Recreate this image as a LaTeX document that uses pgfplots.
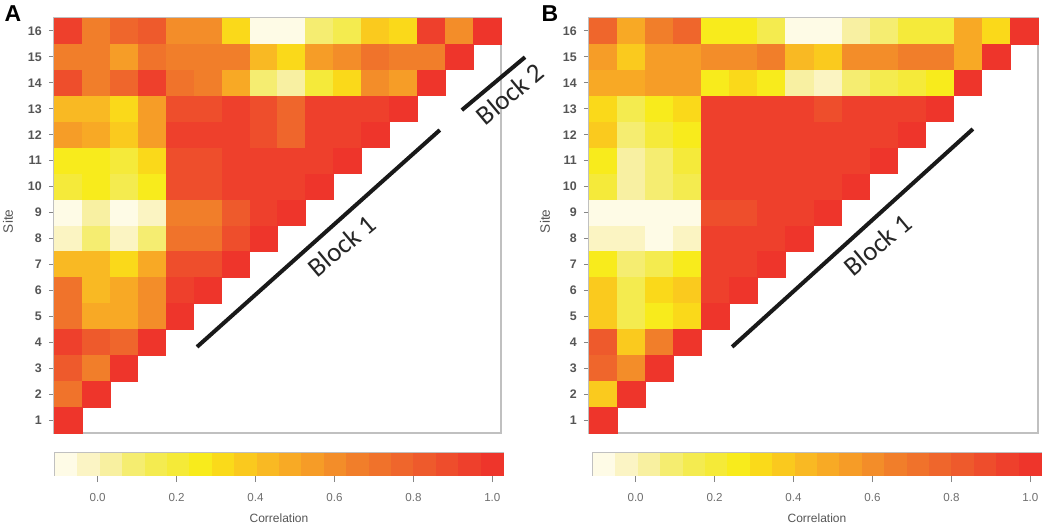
\documentclass[border=0pt]{standalone}
\usepackage{pgfplots}
\pgfplotsset{compat=1.18}
\usepackage{pgfplotstable}
\usepackage{fontspec}
\setmainfont{Liberation Sans}
\newfontfamily\blockfont{Carlito}

\definecolor{ticktext}{RGB}{85,85,85}
\definecolor{boxgray}{RGB}{192,192,192}

\pgfplotsset{
  colormap={corr}{
    rgb255=(254,251,230) rgb255=(251,244,196) rgb255=(248,240,160) rgb255=(245,237,112)
    rgb255=(244,235,80)  rgb255=(245,234,56)  rgb255=(248,235,28)  rgb255=(250,218,26)
    rgb255=(250,201,30)  rgb255=(249,185,35)  rgb255=(248,170,37)  rgb255=(246,156,39)
    rgb255=(243,141,41)  rgb255=(241,126,42)  rgb255=(240,114,43)  rgb255=(239,102,44)
    rgb255=(238,90,44)   rgb255=(238,77,44)   rgb255=(238,64,44)   rgb255=(238,53,43)
  },
  heat/.style={
    scale only axis, height=207.5pt,
    xmin=0.5, xmax=16.5, ymin=0.5, ymax=16.5,
    /pgf/number format/assume math mode=true,
    axis line style={boxgray, line width=0.6pt},
    xtick=\empty, ytick={1,...,16}, ytick pos=left,
    tick align=outside, major tick length=2.6pt,
    major tick style={boxgray!70!black, line width=0.5pt},
    yticklabel style={font=\bfseries\fontsize{6.2}{7}\selectfont, text=ticktext},
    ylabel=Site,
    ylabel style={font=\fontsize{6.8}{7}\selectfont, text=ticktext, anchor=center},
    colormap name=corr, point meta min=-0.0796, point meta max=0.9986,
    clip=false,
  },
  cells/.style={scatter, only marks, mark=square*, mark size=6.9pt,
    mark options={yscale=0.925, line width=0.2pt},
    scatter/use mapped color={draw=mapped color, fill=mapped color},
    point meta=explicit},
  cbar/.style={
    scale only axis, width=224pt, height=11pt,
    xmin=-0.108, xmax=1.027, ymin=-0.5, ymax=0.5,
    ytick=\empty, xtick={0,0.2,0.4,0.6,0.8,1.0},
    xticklabels={0.0,0.2,0.4,0.6,0.8,1.0},
    xtick pos=left, tick align=outside, major tick length=3.5pt,
    major tick style={boxgray!70!black, line width=0.5pt},
    axis line style={boxgray, line width=0.6pt},
    xticklabel style={font=\fontsize{5.8}{7}\selectfont, text=ticktext!85!white, yshift=-2pt},
    xlabel=Correlation,
    xlabel style={font=\fontsize{6}{7}\selectfont, text=ticktext, at={(axis description cs:0.5,-1.955)}, anchor=center},
    colormap name=corr, point meta min=-0.0796, point meta max=0.9986,
    clip=false,
  },
  cbarcells/.style={scatter, only marks, mark=square*, mark size=5.5pt,
    mark options={yscale=0.98, line width=0.2pt},
    scatter/use mapped color={draw=mapped color, fill=mapped color},
    point meta=x},
}

\pgfplotstableread{
x y c
1 16 0.94
2 16 0.66
3 16 0.77
4 16 0.83
5 16 0.60
6 16 0.60
7 16 0.32
8 16 -0.08
9 16 -0.08
10 16 0.09
11 16 0.15
12 16 0.37
13 16 0.32
14 16 0.94
15 16 0.60
16 16 1.00
1 15 0.66
2 15 0.66
3 15 0.54
4 15 0.71
5 15 0.66
6 15 0.66
7 15 0.66
8 15 0.43
9 15 0.32
10 15 0.54
11 15 0.60
12 15 0.71
13 15 0.66
14 15 0.66
15 15 1.00
1 14 0.88
2 14 0.66
3 14 0.77
4 14 0.94
5 14 0.71
6 14 0.66
7 14 0.49
8 14 0.09
9 14 0.03
10 14 0.20
11 14 0.32
12 14 0.60
13 14 0.54
14 14 1.00
1 13 0.43
2 13 0.43
3 13 0.32
4 13 0.54
5 13 0.88
6 13 0.88
7 13 0.94
8 13 0.88
9 13 0.77
10 13 0.94
11 13 0.94
12 13 0.94
13 13 1.00
1 12 0.54
2 12 0.49
3 12 0.37
4 12 0.54
5 12 0.94
6 12 0.94
7 12 0.94
8 12 0.88
9 12 0.77
10 12 0.94
11 12 0.94
12 12 1.00
1 11 0.26
2 11 0.26
3 11 0.20
4 11 0.32
5 11 0.88
6 11 0.88
7 11 0.94
8 11 0.94
9 11 0.94
10 11 0.94
11 11 1.00
1 10 0.20
2 10 0.26
3 10 0.15
4 10 0.26
5 10 0.88
6 10 0.88
7 10 0.94
8 10 0.94
9 10 0.94
10 10 1.00
1 9 -0.08
2 9 0.03
3 9 -0.08
4 9 -0.02
5 9 0.66
6 9 0.66
7 9 0.83
8 9 0.94
9 9 1.00
1 8 -0.02
2 8 0.09
3 8 -0.02
4 8 0.09
5 8 0.71
6 8 0.71
7 8 0.88
8 8 1.00
1 7 0.43
2 7 0.43
3 7 0.32
4 7 0.49
5 7 0.88
6 7 0.88
7 7 1.00
1 6 0.71
2 6 0.43
3 6 0.49
4 6 0.60
5 6 0.94
6 6 1.00
1 5 0.71
2 5 0.49
3 5 0.49
4 5 0.60
5 5 1.00
1 4 0.94
2 4 0.83
3 4 0.77
4 4 1.00
1 3 0.83
2 3 0.66
3 3 1.00
1 2 0.71
2 2 1.00
1 1 1.00
}\tabA

\pgfplotstableread{
x y c
1 16 0.77
2 16 0.49
3 16 0.66
4 16 0.77
5 16 0.26
6 16 0.26
7 16 0.15
8 16 -0.08
9 16 -0.08
10 16 0.03
11 16 0.09
12 16 0.20
13 16 0.20
14 16 0.49
15 16 0.32
16 16 1.00
1 15 0.54
2 15 0.37
3 15 0.54
4 15 0.54
5 15 0.60
6 15 0.60
7 15 0.66
8 15 0.43
9 15 0.37
10 15 0.60
11 15 0.60
12 15 0.66
13 15 0.66
14 15 0.49
15 15 1.00
1 14 0.49
2 14 0.49
3 14 0.54
4 14 0.54
5 14 0.26
6 14 0.32
7 14 0.26
8 14 0.03
9 14 -0.02
10 14 0.09
11 14 0.15
12 14 0.20
13 14 0.26
14 14 1.00
1 13 0.32
2 13 0.15
3 13 0.26
4 13 0.32
5 13 0.94
6 13 0.94
7 13 0.94
8 13 0.94
9 13 0.88
10 13 0.94
11 13 0.94
12 13 0.94
13 13 1.00
1 12 0.37
2 12 0.09
3 12 0.20
4 12 0.26
5 12 0.94
6 12 0.94
7 12 0.94
8 12 0.94
9 12 0.94
10 12 0.94
11 12 0.94
12 12 1.00
1 11 0.26
2 11 0.03
3 11 0.09
4 11 0.20
5 11 0.94
6 11 0.94
7 11 0.94
8 11 0.94
9 11 0.94
10 11 0.94
11 11 1.00
1 10 0.20
2 10 0.03
3 10 0.09
4 10 0.15
5 10 0.94
6 10 0.94
7 10 0.94
8 10 0.94
9 10 0.94
10 10 1.00
1 9 -0.08
2 9 -0.08
3 9 -0.08
4 9 -0.08
5 9 0.88
6 9 0.88
7 9 0.94
8 9 0.94
9 9 1.00
1 8 -0.02
2 8 -0.02
3 8 -0.08
4 8 -0.02
5 8 0.94
6 8 0.94
7 8 0.94
8 8 1.00
1 7 0.26
2 7 0.09
3 7 0.15
4 7 0.26
5 7 0.94
6 7 0.94
7 7 1.00
1 6 0.37
2 6 0.15
3 6 0.32
4 6 0.37
5 6 0.94
6 6 1.00
1 5 0.37
2 5 0.15
3 5 0.26
4 5 0.32
5 5 1.00
1 4 0.83
2 4 0.37
3 4 0.66
4 4 1.00
1 3 0.77
2 3 0.60
3 3 1.00
1 2 0.37
2 2 1.00
1 1 1.00
}\tabB

\begin{document}
\begin{tikzpicture}
\useasboundingbox (0,0) rectangle (525pt,262.5pt);

% ---------- Panel A ----------
\begin{axis}[heat, at={(27pt,46pt)}, anchor=south west, width=223.5pt,
  ylabel style={at={(axis description cs:-0.103,0.51)}}]
\addplot[cells] table[x=x, y=y, meta=c] {\tabA};
\draw[line width=2pt, black!90] (5.62,3.82) -- (14.31,12.18);
\node[rotate=40, font=\blockfont\fontsize{13.5}{14}\selectfont, text=black!85] at (10.80,7.72) {Block 1};
\draw[line width=2pt, black!90] (15.10,12.95) -- (17.36,14.99);
\node[rotate=40, font=\blockfont\fontsize{13.5}{14}\selectfont, text=black!85] at (16.82,13.58) {Block 2};
\end{axis}

% ---------- Panel B ----------
\begin{axis}[heat, at={(294.5pt,46pt)}, anchor=south west, width=224.5pt,
  ylabel style={at={(axis description cs:-0.098,0.51)}}]
\addplot[cells] table[x=x, y=y, meta=c] {\tabB};
\draw[line width=2pt, black!90] (5.60,3.82) -- (14.18,12.22);
\node[rotate=40, font=\blockfont\fontsize{13.5}{14}\selectfont, text=black!85] at (10.78,7.75) {Block 1};
\end{axis}

% ---------- Colour bars ----------
\begin{axis}[cbar, at={(27.5pt,25pt)}, anchor=south west]
\addplot[cbarcells] coordinates {
(-0.0796,0) (-0.0229,0) (0.0339,0) (0.0906,0) (0.1474,0)
(0.2041,0) (0.2609,0) (0.3176,0) (0.3744,0) (0.4311,0)
(0.4879,0) (0.5446,0) (0.6014,0) (0.6581,0) (0.7149,0)
(0.7716,0) (0.8284,0) (0.8851,0) (0.9419,0) (0.9986,0)};
\end{axis}
\begin{axis}[cbar, at={(296.5pt,25pt)}, anchor=south west]
\addplot[cbarcells] coordinates {
(-0.0796,0) (-0.0229,0) (0.0339,0) (0.0906,0) (0.1474,0)
(0.2041,0) (0.2609,0) (0.3176,0) (0.3744,0) (0.4311,0)
(0.4879,0) (0.5446,0) (0.6014,0) (0.6581,0) (0.7149,0)
(0.7716,0) (0.8284,0) (0.8851,0) (0.9419,0) (0.9986,0)};
\end{axis}

\node[font=\bfseries\fontsize{11.5}{12}\selectfont] at (6.5pt,255.5pt) {A};
\node[font=\bfseries\fontsize{11.5}{12}\selectfont] at (275pt,255.5pt) {B};
\end{tikzpicture}
\end{document}
